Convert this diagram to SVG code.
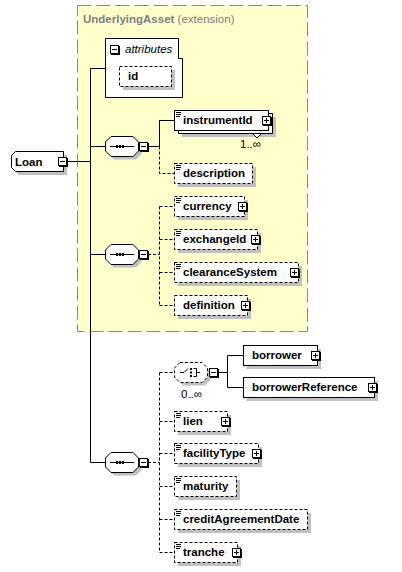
<svg xmlns="http://www.w3.org/2000/svg" xmlns:xlink="http://www.w3.org/1999/xlink" width="402" height="572" viewBox="0 0 402 572">
<style>
text{font-family:"Liberation Sans",Arial,sans-serif;font-size:11.5px;fill:#000}
.b{font-weight:bold}
.it{font-style:italic}
.box{fill:#fff;stroke:#000;stroke-width:1}
.dash{stroke-dasharray:3,2}
.sh{fill:#c0c0c0;stroke:none}
.conn{fill:none;stroke:#000;stroke-width:1}
.conn.d{stroke-dasharray:3,2}
.title{fill:#808080}
</style>
<defs>
<polygon id="oct" points="6,0.5 28,0.5 33.5,6 33.5,15 28,20.5 6,20.5 0.5,15 0.5,6"/>
<g id="seqIcon"><path d="M5,10.5H29" stroke="#000"/><rect x="11" y="9" width="2" height="3" fill="#000"/><rect x="14" y="9" width="2" height="3" fill="#000"/><rect x="17" y="9" width="2" height="3" fill="#000"/></g>
<g id="minus"><rect x="1" y="1" width="9" height="9" fill="#000"/><rect x="0.5" y="0.5" width="8" height="8" fill="#fff" stroke="#000"/><path d="M2,4.5H7" stroke="#000"/></g>
<g id="plus"><rect x="1" y="1" width="9" height="9" fill="#000"/><rect x="0.5" y="0.5" width="8" height="8" fill="#fff" stroke="#000"/><path d="M2,4.5H7M4.5,2V7" stroke="#000"/></g>
<path id="ico" d="M2,2.5H7M2,4.5H7M2,6.5H6" stroke="#000" fill="none"/>
</defs>

<g id="extension">
<rect x="77.5" y="5.5" width="230" height="326" fill="#ffffcc" stroke="#888" stroke-dasharray="14,5"/>
<text x="83" y="23" class="title"><tspan class="b title">UnderlyingAsset</tspan> (extension)</text>
</g>

<g id="connectors">
<path class="conn" d="M67,161.5H90.5M90.5,68.5V462.5M90.5,68.5H105.5M90.5,146.5H105M90.5,254.5H105M90.5,462.5H105"/>
<path class="conn" d="M148,146.5H159.5V120.5H174.5M159.5,120.5V146.5"/>
<path class="conn d" d="M159.5,146.5V173.5H174.5"/>
<path class="conn d" d="M148,254.5H159.5M159.5,206.5V305.5M159.5,206.5H174.5M159.5,239.5H174.5M159.5,272.5H174.5M159.5,305.5H174.5"/>
<path class="conn d" d="M148,462.5H159.5M159.5,372.5V552.5M159.5,372.5H174M159.5,421.5H174.5M159.5,453.5H174.5M159.5,486.5H174.5M159.5,519.5H174.5M159.5,552.5H174.5"/>
<path class="conn" d="M218,372.5H227.5M227.5,355.5V387.5M227.5,355.5H243.5M227.5,387.5H243.5"/>
</g>

<g id="n-Loan">
<polygon class="sh" points="19,155 67,155 67,175 19,175 15,171 15,159"/>
<polygon class="box" points="15.5,151.5 63.5,151.5 63.5,171.5 15.5,171.5 11.5,167.5 11.5,155.5"/>
<text x="15" y="166" class="b">Loan</text>
<use xlink:href="#minus" x="58" y="157"/>
</g>

<g id="n-attributes">
<path class="box" d="M105.5,38.5H178.5V58.5H182.5V97.5H105.5Z"/>
<use xlink:href="#minus" x="110" y="45"/>
<text x="125" y="53" class="it">attributes</text>
</g>
<g id="n-id">
<rect class="sh" x="123" y="70" width="52" height="20"/>
<rect class="box dash" x="119.5" y="66.5" width="52" height="20"/>
<text x="128" y="80" class="b">id</text>
</g>

<g id="n-seq1" transform="translate(105,136)">
<use xlink:href="#oct" x="3" y="3" fill="#c0c0c0"/>
<use xlink:href="#oct" fill="#fff" stroke="#000"/>
<use xlink:href="#seqIcon"/>
<use xlink:href="#minus" x="34" y="6"/>
</g>

<g id="n-instrumentId">
<rect class="sh" x="182" y="117" width="94" height="20"/>
<rect class="box" x="178.5" y="113.5" width="94" height="20"/>
<rect class="box" x="174.5" y="110.5" width="94" height="20"/>
<use xlink:href="#ico" x="174" y="110"/>
<text x="183" y="124" class="b">instrumentId</text>
<use xlink:href="#plus" x="262" y="116"/>
<polygon points="252.5,133.5 261.5,133.5 257,138" fill="#fff" stroke="#000"/>
<text x="240" y="148">1..∞</text>
</g>

<g id="n-description">
<rect class="sh" x="178" y="167" width="78" height="20"/>
<rect class="box dash" x="174.5" y="163.5" width="78" height="20"/>
<use xlink:href="#ico" x="174" y="163"/>
<text x="183" y="177" class="b">description</text>
</g>

<g id="n-seq2" transform="translate(105,244)">
<use xlink:href="#oct" x="3" y="3" fill="#c0c0c0"/>
<use xlink:href="#oct" fill="#fff" stroke="#000"/>
<use xlink:href="#seqIcon"/>
<use xlink:href="#minus" x="34" y="6"/>
</g>

<g id="n-currency">
<rect class="sh" x="178" y="200" width="70" height="20"/>
<rect class="box dash" x="174.5" y="196.5" width="70" height="20"/>
<use xlink:href="#ico" x="174" y="196"/>
<text x="183" y="210" class="b">currency</text>
<use xlink:href="#plus" x="238" y="202"/>
</g>
<g id="n-exchangeId">
<rect class="sh" x="178" y="233" width="83" height="20"/>
<rect class="box dash" x="174.5" y="229.5" width="83" height="20"/>
<use xlink:href="#ico" x="174" y="229"/>
<text x="183" y="243" class="b">exchangeId</text>
<use xlink:href="#plus" x="251" y="235"/>
</g>
<g id="n-clearanceSystem">
<rect class="sh" x="178" y="266" width="124" height="20"/>
<rect class="box dash" x="174.5" y="262.5" width="124" height="20"/>
<use xlink:href="#ico" x="174" y="262"/>
<text x="183" y="276" class="b">clearanceSystem</text>
<use xlink:href="#plus" x="290" y="268"/>
</g>
<g id="n-definition">
<rect class="sh" x="178" y="299" width="73" height="20"/>
<rect class="box dash" x="174.5" y="295.5" width="73" height="20"/>
<text x="183" y="309" class="b">definition</text>
<use xlink:href="#plus" x="241" y="301"/>
</g>

<g id="n-seq3" transform="translate(105,452)">
<use xlink:href="#oct" x="3" y="3" fill="#c0c0c0"/>
<use xlink:href="#oct" fill="#fff" stroke="#000"/>
<use xlink:href="#seqIcon"/>
<use xlink:href="#minus" x="34" y="6"/>
</g>

<g id="n-choice" transform="translate(174,362)">
<use xlink:href="#oct" x="3" y="3" fill="#c0c0c0"/>
<use xlink:href="#oct" fill="#fff" stroke="#000" stroke-dasharray="3,2"/>
<path d="M6,10.5H10L14,6.5" stroke="#000" fill="none"/>
<rect x="16" y="6" width="2" height="2" fill="#000"/>
<rect x="16" y="9.5" width="2" height="2" fill="#000"/>
<rect x="16" y="13" width="2" height="2" fill="#000"/>
<path d="M19.5,6.5H22.5V14.5H19.5M22.5,10.5H26" stroke="#000" fill="none"/>
<use xlink:href="#minus" x="35" y="6"/>
<text x="7" y="35.5">0..∞</text>
</g>

<g id="n-borrower">
<rect class="sh" x="247" y="349" width="74" height="20"/>
<rect class="box" x="243.5" y="345.5" width="74" height="20"/>
<text x="252" y="359" class="b">borrower</text>
<use xlink:href="#plus" x="311" y="351"/>
</g>
<g id="n-borrowerReference">
<rect class="sh" x="247" y="381" width="131" height="20"/>
<rect class="box" x="243.5" y="377.5" width="131" height="20"/>
<text x="252" y="391" class="b">borrowerReference</text>
<use xlink:href="#plus" x="368" y="383"/>
</g>

<g id="n-lien">
<rect class="sh" x="178" y="415" width="53" height="20"/>
<rect class="box dash" x="174.5" y="411.5" width="53" height="20"/>
<use xlink:href="#ico" x="174" y="411"/>
<text x="183" y="425" class="b">lien</text>
<use xlink:href="#plus" x="221" y="417"/>
</g>
<g id="n-facilityType">
<rect class="sh" x="178" y="447" width="84" height="20"/>
<rect class="box dash" x="174.5" y="443.5" width="84" height="20"/>
<use xlink:href="#ico" x="174" y="443"/>
<text x="183" y="457" class="b">facilityType</text>
<use xlink:href="#plus" x="252" y="449"/>
</g>
<g id="n-maturity">
<rect class="sh" x="178" y="480" width="62" height="20"/>
<rect class="box dash" x="174.5" y="476.5" width="62" height="20"/>
<use xlink:href="#ico" x="174" y="476"/>
<text x="183" y="490" class="b">maturity</text>
</g>
<g id="n-creditAgreementDate">
<rect class="sh" x="178" y="513" width="133" height="20"/>
<rect class="box dash" x="174.5" y="509.5" width="133" height="20"/>
<use xlink:href="#ico" x="174" y="509"/>
<text x="183" y="523" class="b">creditAgreementDate</text>
</g>
<g id="n-tranche">
<rect class="sh" x="178" y="546" width="63" height="20"/>
<rect class="box dash" x="174.5" y="542.5" width="63" height="20"/>
<use xlink:href="#ico" x="174" y="542"/>
<text x="183" y="556" class="b">tranche</text>
<use xlink:href="#plus" x="232" y="548"/>
</g>
</svg>
